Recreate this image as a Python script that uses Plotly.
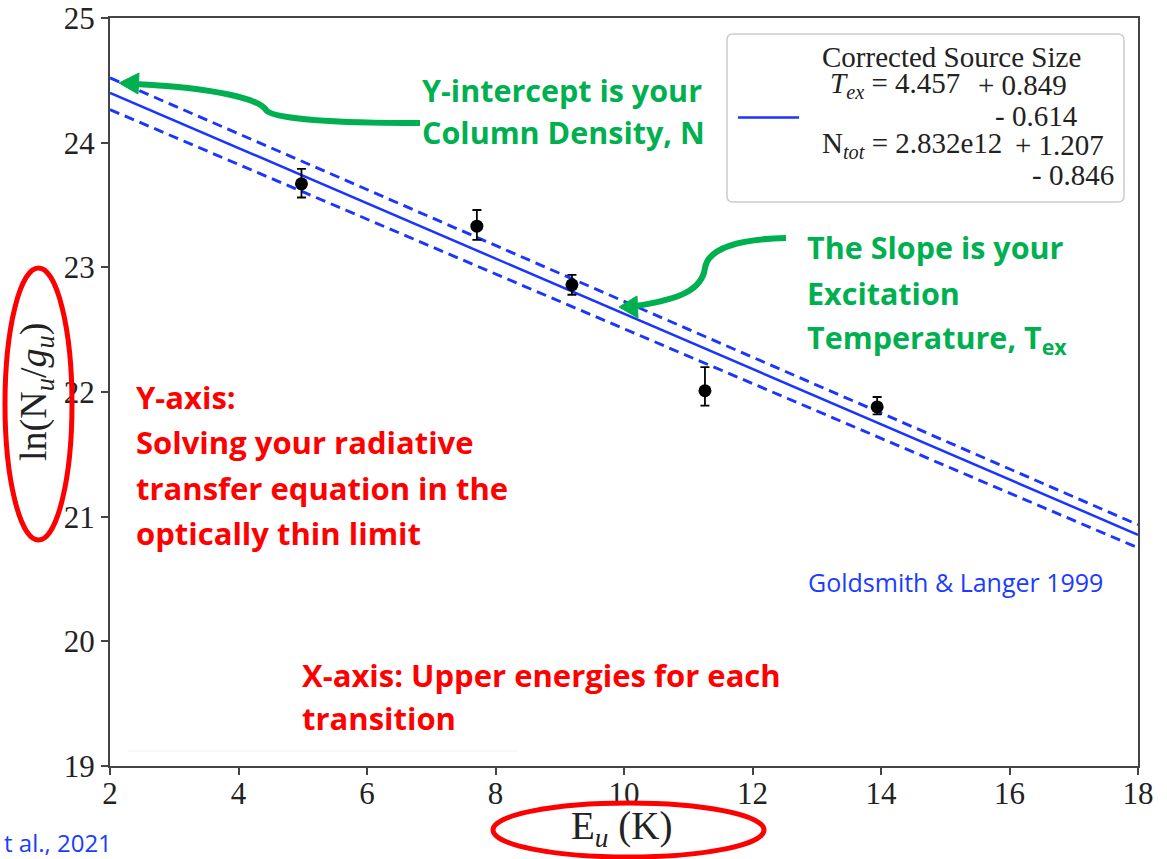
import plotly.graph_objects as go

# ---------------- data ----------------
E_u = [4.98, 7.71, 9.19, 11.26, 13.94]
ln_Nu_gu = [23.67, 23.33, 22.86, 22.01, 21.88]
err_plus = [0.12, 0.13, 0.08, 0.19, 0.08]
err_minus = [0.11, 0.11, 0.08, 0.12, 0.06]

fit_x = [2, 18]
fit_y = [24.40, 20.855]
fit_upper = [24.52, 20.935]
fit_lower = [24.265, 20.75]

x_ticks = [2, 4, 6, 8, 10, 12, 14, 16, 18]
y_ticks = [19, 20, 21, 22, 23, 24, 25]

# ---------------- layout helpers ----------------
W, H = 1167, 859
L, R, T, B = 110, 1138, 18, 766


def px(x):
    return (x - L) / (R - L)


def py(y):
    return (B - y) / (B - T)


def P(x, y):
    return f"{px(x)},{py(y)}"


BLUE = "#1a35ff"
GREEN = "#00B050"
RED = "#FF0000"
SERIF = "Liberation Serif, Times New Roman, serif"
SANS = "Open Sans, Lato, sans-serif"

fig = go.Figure()

fig.add_trace(go.Scatter(x=fit_x, y=fit_upper, mode="lines",
                         line=dict(color=BLUE, width=2.9, dash="10px,6px"),
                         showlegend=False, hoverinfo="skip"))
fig.add_trace(go.Scatter(x=fit_x, y=fit_lower, mode="lines",
                         line=dict(color=BLUE, width=2.9, dash="10px,6px"),
                         showlegend=False, hoverinfo="skip"))
fig.add_trace(go.Scatter(x=fit_x, y=fit_y, mode="lines",
                         line=dict(color=BLUE, width=2.5),
                         showlegend=False, name="Corrected Source Size"))
fig.add_trace(go.Scatter(x=E_u, y=ln_Nu_gu, mode="markers",
                         marker=dict(color="black", size=13),
                         error_y=dict(type="data", symmetric=False,
                                      array=err_plus, arrayminus=err_minus,
                                      color="black", thickness=1.8, width=4.5),
                         showlegend=False))

shapes = []
annotations = []

# legend box (rounded rectangle)
lx0, lx1, ly0, ly1, rr = 727, 1124, 34, 202, 6
shapes.append(dict(
    type="path", xref="paper", yref="paper",
    path=(f"M {P(lx0+rr, ly0)} L {P(lx1-rr, ly0)} Q {P(lx1, ly0)} {P(lx1, ly0+rr)} "
          f"L {P(lx1, ly1-rr)} Q {P(lx1, ly1)} {P(lx1-rr, ly1)} "
          f"L {P(lx0+rr, ly1)} Q {P(lx0, ly1)} {P(lx0, ly1-rr)} "
          f"L {P(lx0, ly0+rr)} Q {P(lx0, ly0)} {P(lx0+rr, ly0)} Z"),
    line=dict(color="#cccccc", width=1.5), fillcolor="rgba(255,255,255,0.9)",
    layer="above"))
shapes.append(dict(type="line", xref="paper", yref="paper",
                   x0=px(738), x1=px(799), y0=py(117.5), y1=py(117.5),
                   line=dict(color=BLUE, width=2.6), layer="above"))

legend_lines = [
    ("Corrected Source Size", 820, 56.5),
    ("<i>T</i><sub><i>ex</i></sub> = 4.457", 828, 85),
    ("+ 0.849", 976, 85),
    ("- 0.614", 993, 116),
    ("N<sub><i>tot</i></sub> = 2.832e12", 820, 145),
    ("+ 1.207", 1013, 145),
    ("- 0.846", 1030, 175),
]
for txt, x, y in legend_lines:
    annotations.append(dict(text=txt, x=px(x), y=py(y), xref="paper", yref="paper",
                            xanchor="left", yanchor="middle", showarrow=False,
                            font=dict(family=SERIF, size=29, color="#222222")))

# green annotation texts
green_lines = [
    ("Y-intercept is your", 420, 90),
    ("Column Density, N", 420, 132),
    ("The Slope is your", 805, 247),
    ("Excitation", 805, 293),
    ("Temperature, T<sub>ex</sub>", 805, 338),
]
for txt, x, y in green_lines:
    annotations.append(dict(text=f"<b>{txt}</b>", x=px(x), y=py(y), xref="paper",
                            yref="paper", xanchor="left", yanchor="middle",
                            showarrow=False,
                            font=dict(family=SANS, size=30.5, color=GREEN)))

red_lines = [
    ("Y-axis:", 134, 397),
    ("Solving your radiative", 134, 442),
    ("transfer equation in the", 134, 488),
    ("optically thin limit", 134, 533),
    ("X-axis: Upper energies for each", 300, 675),
    ("transition", 300, 718),
]
for txt, x, y in red_lines:
    annotations.append(dict(text=f"<b>{txt}</b>", x=px(x), y=py(y), xref="paper",
                            yref="paper", xanchor="left", yanchor="middle",
                            showarrow=False,
                            font=dict(family=SANS, size=31, color=RED)))

annotations.append(dict(text="Goldsmith & Langer 1999", x=px(806), y=py(582),
                        xref="paper", yref="paper", xanchor="left", yanchor="middle",
                        showarrow=False, font=dict(family=SANS, size=25, color="#1a3cff")))
annotations.append(dict(text="t al., 2021", x=px(2), y=py(842),
                        xref="paper", yref="paper", xanchor="left", yanchor="middle",
                        showarrow=False, font=dict(family=SANS, size=24, color="#1a3cff")))

# axis titles
annotations.append(dict(text="E<sub><i>u</i></sub> (K)", x=px(621), y=py(828),
                        xref="paper", yref="paper", xanchor="center", yanchor="middle",
                        showarrow=False, font=dict(family=SERIF, size=39, color="#222222")))
annotations.append(dict(text="ln(N<sub><i>u</i></sub>/<i>g</i><sub><i>u</i></sub>)",
                        x=px(36), y=py(392), textangle=-90,
                        xref="paper", yref="paper", xanchor="center", yanchor="middle",
                        showarrow=False, font=dict(family=SERIF, size=38, color="#222222")))

# green arrows (paths in paper coords)
arrow1 = (f"M {P(420,123)} C {P(335,123)} {P(272,119)} {P(266,110)} "
          f"C {P(260,100)} {P(220,88)} {P(134,84)}")
arrow1_head = f"M {P(119,83)} L {P(139,73)} L {P(138,94)} Z"
arrow2 = (f"M {P(786,238)} C {P(740,239)} {P(708,248)} {P(705,268)} "
          f"C {P(702,290)} {P(680,299)} {P(636,306)}")
arrow2_head = f"M {P(619,307)} L {P(637,296)} L {P(638,318)} Z"
for p in (arrow1, arrow2):
    shapes.append(dict(type="path", xref="paper", yref="paper", path=p,
                       line=dict(color=GREEN, width=6), layer="above"))
for p in (arrow1_head, arrow2_head):
    shapes.append(dict(type="path", xref="paper", yref="paper", path=p,
                       line=dict(color=GREEN, width=1), fillcolor=GREEN, layer="above"))

# red ellipses
shapes.append(dict(type="circle", xref="paper", yref="paper",
                   x0=px(5), x1=px(72), y0=py(540), y1=py(268),
                   line=dict(color=RED, width=5), layer="above"))
shapes.append(dict(type="circle", xref="paper", yref="paper",
                   x0=px(493), x1=px(764), y0=py(857), y1=py(803),
                   line=dict(color=RED, width=5), layer="above"))

# faint leftover line near bottom
shapes.append(dict(type="line", xref="paper", yref="paper",
                   x0=px(128), x1=px(517), y0=py(751), y1=py(751),
                   line=dict(color="#eeeeee", width=1), layer="above"))

axis_common = dict(showgrid=False, zeroline=False, showline=True, mirror=True,
                   linecolor="#444444", linewidth=2, ticks="outside", ticklen=7,
                   tickwidth=1.5, tickcolor="#444444", automargin=False,
                   tickfont=dict(family=SERIF, size=31, color="#222222"))

fig.update_layout(
    width=W, height=H,
    margin=dict(l=L, r=W - R, t=T, b=H - B, autoexpand=False),
    paper_bgcolor="white", plot_bgcolor="white",
    xaxis=dict(range=[2, 18], tickvals=x_ticks, ticktext=[str(v) for v in x_ticks],
               ticklabelstandoff=-8, **axis_common),
    yaxis=dict(range=[19, 25], tickvals=y_ticks, ticktext=[str(v) for v in y_ticks],
               **axis_common),
    shapes=shapes,
    annotations=annotations,
    showlegend=False,
)

fig.write_html("out.html")
